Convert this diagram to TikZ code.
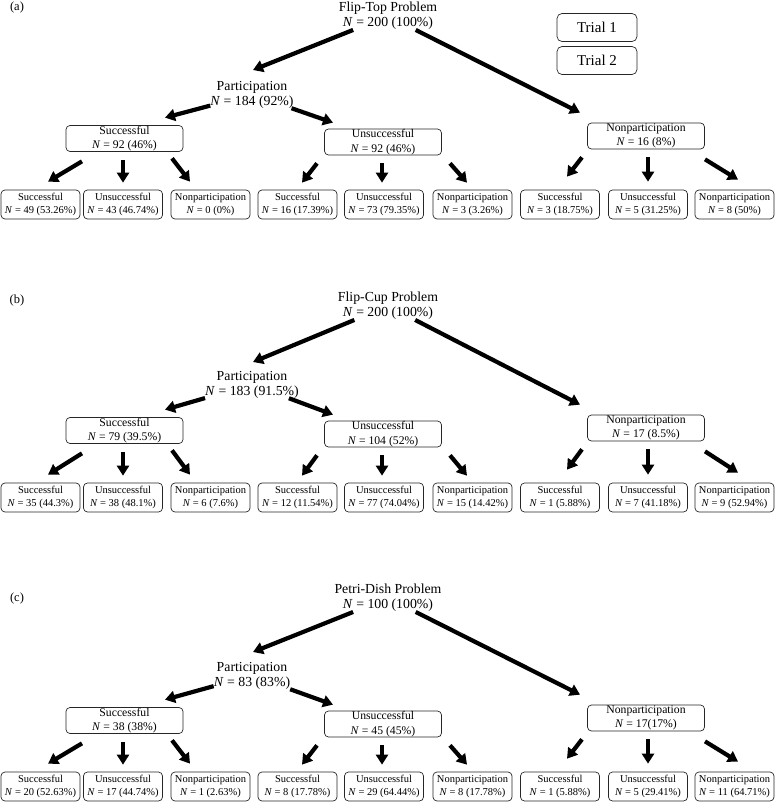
\documentclass[tikz,border=0pt]{standalone}
\usepackage{fontspec}
\setmainfont{Liberation Serif}
\usetikzlibrary{arrows.meta}

\begin{document}
\begin{tikzpicture}
			[x=1pt,y=-1pt,
			%Styles
			panel label/.style={font=\fontsize{12.5}{14}\selectfont},
			problem/.style={align=center,inner sep=0pt,font=\fontsize{13.8}{15}\selectfont},
			group box/.style={draw=black!85,line width=.7pt,rounded corners=4pt,align=center,inner sep=0pt,
				minimum width=117pt,minimum height=26pt,font=\fontsize{11.7}{14.6}\selectfont},
			leaf box/.style={draw=black!85,line width=.7pt,rounded corners=4pt,align=center,inner sep=0pt,
				minimum width=79pt,minimum height=29pt,font=\fontsize{10.5}{12.3}\selectfont},
			trial box/.style={draw=black!85,line width=.7pt,rounded corners=5pt,inner sep=0pt,
				minimum width=80pt,minimum height=28pt,font=\fontsize{15}{17}\selectfont},
			flow/.style={draw,line width=4.2pt,-{Triangle[width=12pt,length=10pt]}}
			]
			
			\useasboundingbox (0,0) rectangle (776,802);
			
			%Legend
			\node[trial box] (T1) at (597,27.5) {Trial 1};
			\node[trial box] (T2) at (597,60.5) {Trial 2};
			
			%(a) Flip-Top
			\node[panel label] (labA) at (17,7.5) {(a)};
			\node[problem] (topA) at (388,16) {Flip-Top Problem\\\textit{N} = 200 (100\%)};
			\node[problem] (partA) at (252,94.5) {Participation\\\textit{N} = 184 (92\%)};
			\node[group box] (sA) at (124.5,138.5) {Successful\\\textit{N} = 92 (46\%)};
			\node[group box] (uA) at (383,142) {Unsuccessful\\\textit{N} = 92 (46\%)};
			\node[group box] (nA) at (646,136) {Nonparticipation\\\textit{N} = 16 (8\%)};
			\node[leaf box] (ssA) at (40.5,204.5) {Successful\\\textit{N} = 49 (53.26\%)};
			\node[leaf box] (suA) at (123,204.5) {Unsuccessful\\\textit{N} = 43 (46.74\%)};
			\node[leaf box] (snA) at (210.5,204.5) {Nonparticipation\\\textit{N} = 0 (0\%)};
			\node[leaf box] (usA) at (297.5,204.5) {Successful\\\textit{N} = 16 (17.39\%)};
			\node[leaf box] (uuA) at (384,204.5) {Unsuccessful\\\textit{N} = 73 (79.35\%)};
			\node[leaf box] (unA) at (472.5,204.5) {Nonparticipation\\\textit{N} = 3 (3.26\%)};
			\node[leaf box] (nsA) at (560,204.5) {Successful\\\textit{N} = 3 (18.75\%)};
			\node[leaf box] (nuA) at (648,204.5) {Unsuccessful\\\textit{N} = 5 (31.25\%)};
			\node[leaf box] (nnA) at (734.5,204.5) {Nonparticipation\\\textit{N} = 8 (50\%)};
			
			\path
				([shift={(-71,18)}]topA) edge[flow] ([shift={(1,-24.5)}]partA)
				([shift={(62,22)}]topA) edge[flow] ([shift={(-66,-10)}]nA.north)
				([shift={(-47,0.5)}]partA) edge[flow] ([shift={(40.5,-7.5)}]sA.north)
				([shift={(46,3.5)}]partA) edge[flow] ([shift={(-50,-6)}]uA.north)
				([shift={(-42.5,9.5)}]sA.south) edge[flow] ([shift={(7.5,-8)}]ssA.north)
				([shift={(-1.5,8.5)}]sA.south) edge[flow] ([shift={(0,-7)}]suA.north)
				([shift={(47.5,6.5)}]sA.south) edge[flow] ([shift={(-20.5,-8)}]snA.north)
				([shift={(-66,8)}]uA.south) edge[flow] ([shift={(4.5,-7)}]usA.north)
				([shift={(-1,8)}]uA.south) edge[flow] ([shift={(-2,-7)}]uuA.north)
				([shift={(67,8)}]uA.south) edge[flow] ([shift={(-5.5,-7)}]unA.north)
				([shift={(-64,8)}]nA.south) edge[flow] ([shift={(7,-13)}]nsA.north)
				([shift={(2,8)}]nA.south) edge[flow] ([shift={(0,-8)}]nuA.north)
				([shift={(59,10)}]nA.south) edge[flow] ([shift={(3.5,-10)}]nnA.north);
			
			%(b) Flip-Cup
			\begin{scope}[shift={(0,292)}]
			\node[panel label] (labB) at (17,8) {(b)};
			\node[problem] (topB) at (388,14) {Flip-Cup Problem\\\textit{N} = 200 (100\%)};
			\node[problem] (partB) at (252,92.5) {Participation\\\textit{N} = 183 (91.5\%)};
			\node[group box] (sB) at (124.5,138.5) {Successful\\\textit{N} = 79 (39.5\%)};
			\node[group box] (uB) at (383,142) {Unsuccessful\\\textit{N} = 104 (52\%)};
			\node[group box] (nB) at (646,136) {Nonparticipation\\\textit{N} = 17 (8.5\%)};
			\node[leaf box] (ssB) at (40.5,205.5) {Successful\\\textit{N} = 35 (44.3\%)};
			\node[leaf box] (suB) at (123,205.5) {Unsuccessful\\\textit{N} = 38 (48.1\%)};
			\node[leaf box] (snB) at (210.5,205.5) {Nonparticipation\\\textit{N} = 6 (7.6\%)};
			\node[leaf box] (usB) at (297.5,205.5) {Successful\\\textit{N} = 12 (11.54\%)};
			\node[leaf box] (uuB) at (384,205.5) {Unsuccessful\\\textit{N} = 77 (74.04\%)};
			\node[leaf box] (unB) at (472.5,205.5) {Nonparticipation\\\textit{N} = 15 (14.42\%)};
			\node[leaf box] (nsB) at (560,205.5) {Successful\\\textit{N} = 1 (5.88\%)};
			\node[leaf box] (nuB) at (648,205.5) {Unsuccessful\\\textit{N} = 7 (41.18\%)};
			\node[leaf box] (nnB) at (734.5,205.5) {Nonparticipation\\\textit{N} = 9 (52.94\%)};
			
			\path
				([shift={(-71,20)}]topB) edge[flow] ([shift={(1,-22.5)}]partB)
				([shift={(62,24)}]topB) edge[flow] ([shift={(-66,-10)}]nB.north)
				([shift={(-47,0.5)}]partB) edge[flow] ([shift={(40.5,-7.5)}]sB.north)
				([shift={(46,3.5)}]partB) edge[flow] ([shift={(-50,-6)}]uB.north)
				([shift={(-42.5,9.5)}]sB.south) edge[flow] ([shift={(7.5,-8)}]ssB.north)
				([shift={(-1.5,8.5)}]sB.south) edge[flow] ([shift={(0,-7)}]suB.north)
				([shift={(47.5,6.5)}]sB.south) edge[flow] ([shift={(-20.5,-8)}]snB.north)
				([shift={(-66,8)}]uB.south) edge[flow] ([shift={(4.5,-7)}]usB.north)
				([shift={(-1,8)}]uB.south) edge[flow] ([shift={(-2,-7)}]uuB.north)
				([shift={(67,8)}]uB.south) edge[flow] ([shift={(-5.5,-7)}]unB.north)
				([shift={(-64,8)}]nB.south) edge[flow] ([shift={(7,-13)}]nsB.north)
				([shift={(2,8)}]nB.south) edge[flow] ([shift={(0,-8)}]nuB.north)
				([shift={(59,10)}]nB.south) edge[flow] ([shift={(3.5,-10)}]nnB.north);
			\end{scope}
			
			%(c) Petri-Dish
			\begin{scope}[shift={(0,582)}]
			\node[panel label] (labC) at (17,16) {(c)};
			\node[problem] (topC) at (388,16) {Petri-Dish Problem\\\textit{N} = 100 (100\%)};
			\node[problem] (partC) at (252,93.5) {Participation\\\textit{N} = 83 (83\%)};
			\node[group box] (sC) at (124.5,138.5) {Successful\\\textit{N} = 38 (38\%)};
			\node[group box] (uC) at (383,142) {Unsuccessful\\\textit{N} = 45 (45\%)};
			\node[group box] (nC) at (646,136) {Nonparticipation\\\textit{N} = 17(17\%)};
			\node[leaf box] (ssC) at (40.5,204.5) {Successful\\\textit{N} = 20 (52.63\%)};
			\node[leaf box] (suC) at (123,204.5) {Unsuccessful\\\textit{N} = 17 (44.74\%)};
			\node[leaf box] (snC) at (210.5,204.5) {Nonparticipation\\\textit{N} = 1 (2.63\%)};
			\node[leaf box] (usC) at (297.5,204.5) {Successful\\\textit{N} = 8 (17.78\%)};
			\node[leaf box] (uuC) at (384,204.5) {Unsuccessful\\\textit{N} = 29 (64.44\%)};
			\node[leaf box] (unC) at (472.5,204.5) {Nonparticipation\\\textit{N} = 8 (17.78\%)};
			\node[leaf box] (nsC) at (560,204.5) {Successful\\\textit{N} = 1 (5.88\%)};
			\node[leaf box] (nuC) at (648,204.5) {Unsuccessful\\\textit{N} = 5 (29.41\%)};
			\node[leaf box] (nnC) at (734.5,204.5) {Nonparticipation\\\textit{N} = 11 (64.71\%)};
			
			\path
				([shift={(-71,18)}]topC) edge[flow] ([shift={(1,-23.5)}]partC)
				([shift={(62,22)}]topC) edge[flow] ([shift={(-66,-10)}]nC.north)
				([shift={(-47,0.5)}]partC) edge[flow] ([shift={(40.5,-7.5)}]sC.north)
				([shift={(46,3.5)}]partC) edge[flow] ([shift={(-50,-6)}]uC.north)
				([shift={(-42.5,9.5)}]sC.south) edge[flow] ([shift={(7.5,-8)}]ssC.north)
				([shift={(-1.5,8.5)}]sC.south) edge[flow] ([shift={(0,-7)}]suC.north)
				([shift={(47.5,6.5)}]sC.south) edge[flow] ([shift={(-20.5,-8)}]snC.north)
				([shift={(-66,8)}]uC.south) edge[flow] ([shift={(4.5,-7)}]usC.north)
				([shift={(-1,8)}]uC.south) edge[flow] ([shift={(-2,-7)}]uuC.north)
				([shift={(67,8)}]uC.south) edge[flow] ([shift={(-5.5,-7)}]unC.north)
				([shift={(-64,8)}]nC.south) edge[flow] ([shift={(7,-13)}]nsC.north)
				([shift={(2,8)}]nC.south) edge[flow] ([shift={(0,-8)}]nuC.north)
				([shift={(59,10)}]nC.south) edge[flow] ([shift={(3.5,-10)}]nnC.north);
			\end{scope}
		\end{tikzpicture}
\end{document}
